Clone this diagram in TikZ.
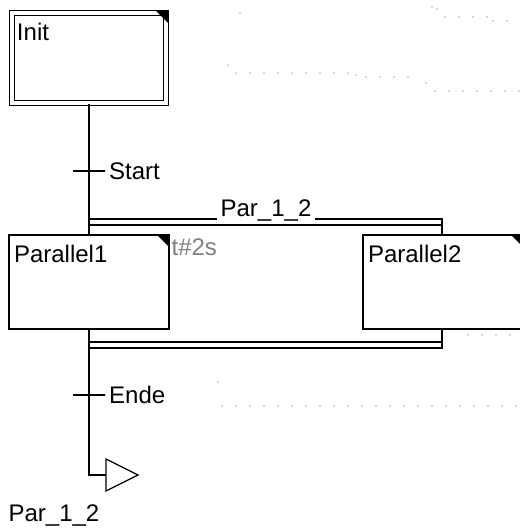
\documentclass[tikz,border=0pt]{standalone}
\usepackage{fontspec}
\setmainfont{Liberation Sans}
\usetikzlibrary{positioning}
\begin{document}
\begin{tikzpicture}[x=0.5pt, y=-0.5pt, line width=0.6pt,
    font=\fontsize{12pt}{14pt}\selectfont,
    schritt/.style={draw, minimum width=80pt, minimum height=47pt, inner sep=0pt},
    initschritt/.style={draw, double, double distance=1.8pt,
                        minimum width=77pt, minimum height=45pt, inner sep=0pt},
    schrittname/.style={label={[anchor=north west, inner sep=0pt,
                        xshift=2.5pt, yshift=-5pt]north west:#1}},
    transition/.style={draw, minimum width=16pt, minimum height=0pt, inner sep=0pt},
    bedingung/.style={label={[inner sep=0pt, xshift=1.5pt]right:#1}},
    punkt/.style={fill=gray!60}
]
    \useasboundingbox (0,0) rectangle (519,529);

    \node[initschritt, schrittname=Init] (init) at (89,58) {};
    \node[schritt, schrittname=Parallel1] (par1) at (89,282) {};
    \node[schritt, schrittname=Parallel2] (par2) at (443,282) {};
    \fill ([shift={(1pt,1pt)}]init.north east) -- ++(-6.5pt,0pt) -- ++(6.5pt,-6.5pt) -- cycle;
    \foreach \n in {par1,par2}
        \fill (\n.north east) -- ++(-6.5pt,0pt) -- ++(6.5pt,-6.5pt) -- cycle;

    \node[transition, bedingung=Start] (start) at (89,171) {};
    \node[transition, bedingung=Ende] (ende) at (89,395) {};

    \coordinate (oben1) at (89,219);  \coordinate (oben2) at (442,219);
    \coordinate (oben3) at (89,225);  \coordinate (oben4) at (442,225);
    \coordinate (unten1) at (89,342); \coordinate (unten2) at (442,342);
    \coordinate (unten3) at (89,348); \coordinate (unten4) at (442,348);
    \coordinate (knick) at (89,475);
    \coordinate (sprung) at (106,475);

    \draw (init) -- (start);
    \draw (start) -- (par1);
    \draw (par1) -- (ende);
    \draw (ende) -- (knick) -- (sprung);
    \draw (oben1) -- (oben2) -- (oben2 |- par2.north);
    \draw (oben3) -- (oben4);
    \draw (unten1) -- (unten2);
    \draw (unten3) -- (unten4) -- (unten4 |- par2.south);
    \draw (sprung) -- ++(0,-16) -- ++(32,16) -- ++(-32,16) -- cycle;

    \node[fill=white, inner xsep=2pt, inner ysep=0pt, anchor=base] (marke) at (266,216) {Par\_1\_2};
    \node[anchor=base west, inner sep=0pt] (sprungname) at (8,521) {Par\_1\_2};
    \node[anchor=base west, inner sep=0pt, text=gray] (zeit) at (171,255) {t\#2s};

    \foreach \x/\y in {240/13, 432/7, 437/9, 493/21, 507/21, 228/65, 356/75, 426/83, 218/382}
        \fill[punkt] (\x,\y) circle (0.45pt);
    \foreach \x in {445,459,473,487} \fill[punkt] (\x,17) circle (0.45pt);
    \foreach \x in {236,250,...,348} \fill[punkt] (\x,73) circle (0.45pt);
    \foreach \x in {366,380,...,408} \fill[punkt] (\x,77) circle (0.45pt);
    \foreach \x in {435,449,...,519} \fill[punkt] (\x,91) circle (0.45pt);
    \foreach \x in {222,236,...,516} \fill[punkt] (\x,406) circle (0.45pt);
    \foreach \x in {468,482,...,510} \fill[punkt] (\x,335) circle (0.45pt);
\end{tikzpicture}
\end{document}
